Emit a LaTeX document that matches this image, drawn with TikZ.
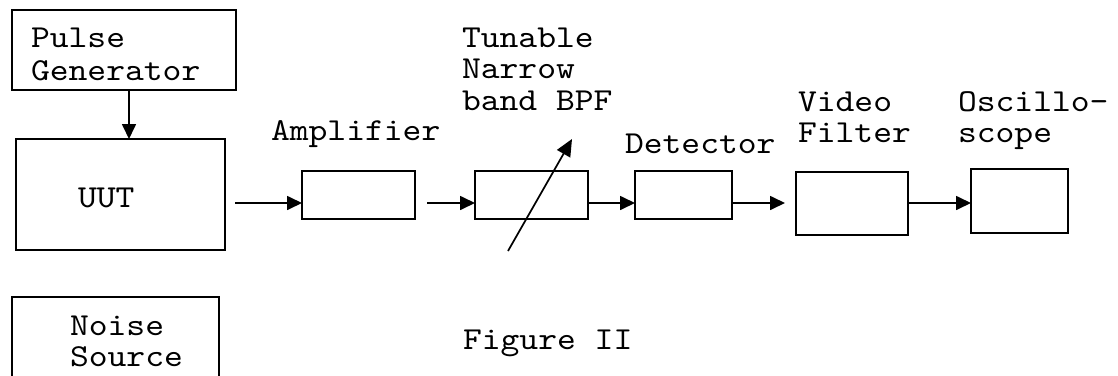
\documentclass[tikz,border=0pt]{standalone}
\usepackage{fontspec}
\setmonofont{lmmono10-regular.otf}[FakeStretch=1.12]
\usetikzlibrary{arrows.meta}

% multi-line labels whose reference point is the first baseline
\newcommand{\twolines}[2]{\vtop{\hbox{#1}\hbox{#2}}}
\newcommand{\threelines}[3]{\vtop{\hbox{#1}\hbox{#2}\hbox{#3}}}

\tikzset{
  blk/.style={draw=black, line width=2.2pt, rectangle, inner sep=0pt, outer sep=0pt},
  lbl/.style={font=\ttfamily\fontsize{32}{32}\selectfont, anchor=base west,
              inner sep=0pt, outer sep=0pt},
  arr/.style={line width=1.7pt, -{Triangle[length=15pt,width=14pt]}},
}

\begin{document}
\begin{tikzpicture}[x=1pt, y=-1pt]
  \useasboundingbox (0,0) rectangle (1118,375);
  \clip (0,0) rectangle (1118,375);
  \fill[white] (0,0) rectangle (1118,375);

  % blocks
  \node[blk, minimum width=224pt, minimum height=80pt]  (pg)    at (124,50)     {};
  \node[blk, minimum width=209pt, minimum height=111pt] (uut)   at (120.5,194.5) {};
  \node[blk, minimum width=207pt, minimum height=110pt] (noise) at (115.5,352)  {};
  \node[blk, line width=2.8pt, minimum width=113pt, minimum height=48pt] (amp) at (358.5,195) {};
  \node[blk, minimum width=113pt, minimum height=48pt]  (bpf)   at (531.5,195)  {};
  \node[blk, minimum width=97pt,  minimum height=48pt]  (det)   at (683.5,195)  {};
  \node[blk, minimum width=112pt, minimum height=63pt]  (vf)    at (852,203.5)  {};
  \node[blk, minimum width=97pt,  minimum height=64pt]  (osc)   at (1019.5,201) {};

  % labels
  \node[lbl, font=\ttfamily\fontsize{32}{33}\selectfont] (tpg) at (31,47) {\twolines{Pulse}{Generator}};
  \node[lbl] (tuut)   at (78,207)  {UUT};
  \node[lbl, font=\ttfamily\fontsize{32}{31}\selectfont] (tnoise) at (70,335) {\twolines{Noise}{Source}};
  \node[lbl] (tamp)   at (271,140) {Amplifier};
  \node[lbl, font=\ttfamily\fontsize{32}{31.5}\selectfont] (tbpf) at (462,47) {\threelines{Tunable}{Narrow}{band BPF}};
  \node[lbl] (tdet)   at (625,153) {Detector};
  \node[lbl, font=\ttfamily\fontsize{32}{31}\selectfont] (tvf)  at (798,111) {\twolines{Video}{Filter}};
  \node[lbl, font=\ttfamily\fontsize{32}{31}\selectfont] (tosc) at (958,111) {\twolines{Oscillo-}{scope}};
  \node[lbl] (tfig)   at (463,349) {Figure II};

  % signal path
  \coordinate (lvl) at (0,203);
  \draw[arr] (pg.south -| 129,0) -- (uut.north -| 129,0);
  \draw[arr, shorten <=10pt] (uut.east |- lvl) -- (amp.west |- lvl);
  \draw[arr, shorten <=12pt] (amp.east |- lvl) -- (bpf.west |- lvl);
  \draw[arr] (bpf.east |- lvl) -- (det.west |- lvl);
  \draw[arr, shorten >=11pt] (det.east |- lvl) -- (vf.west |- lvl);
  \draw[arr] (vf.east |- lvl) -- (osc.west |- lvl);

  % tuning arrow across the band-pass filter
  \coordinate (tuneA) at (508,251);
  \coordinate (tuneB) at (572,139);
  \draw[line width=1.7pt, -{Triangle[length=17pt,width=15pt]}] (tuneA) -- (tuneB);
\end{tikzpicture}
\end{document}
